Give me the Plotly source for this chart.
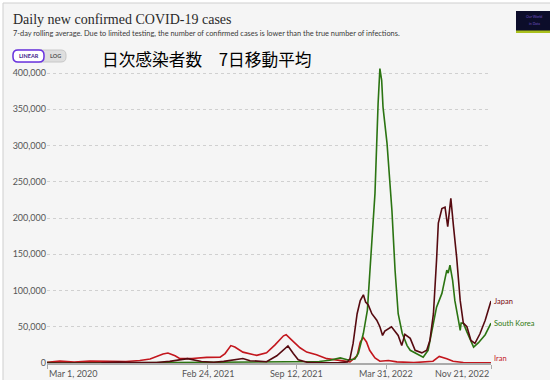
import plotly.graph_objects as go

# ---------------- data ----------------
japan_dates = ["2020-03-01","2020-04-12","2020-05-20","2020-07-01","2020-08-08","2020-09-20","2020-11-01",
    "2020-12-01","2021-01-10","2021-02-10","2021-03-10","2021-04-01","2021-04-22","2021-05-14","2021-05-30",
    "2021-06-25","2021-07-06","2021-07-29","2021-08-23","2021-09-04","2021-09-15","2021-10-05","2021-11-01",
    "2021-12-15","2022-01-03","2022-01-09","2022-01-16","2022-01-25","2022-02-01","2022-02-08","2022-02-13",
    "2022-02-19","2022-02-27","2022-03-10","2022-03-17","2022-03-23","2022-03-28","2022-04-12","2022-04-20",
    "2022-04-27","2022-05-05","2022-05-12","2022-05-24","2022-06-04","2022-06-19","2022-06-30","2022-07-07",
    "2022-07-15","2022-07-22","2022-07-26","2022-08-03","2022-08-10","2022-08-16","2022-08-23","2022-08-29",
    "2022-09-05","2022-09-13","2022-09-20","2022-09-28","2022-10-07","2022-10-16","2022-10-27","2022-11-08",
    "2022-11-21"]
japan_cases = [30,550,50,150,1400,500,700,
    2200,6000,2000,1100,2200,4500,6200,3200,
    1600,1800,10000,23500,13000,4500,1000,200,
    150,1500,6000,27000,68000,86000,94000,84000,
    80000,68000,59000,50000,38000,44000,50000,44000,
    38000,24000,39500,34000,17500,14000,17500,31000,
    68000,142000,193000,213000,215000,188000,227000,188000,
    146000,86000,55000,50000,31000,27000,40000,59000,
    85500]

korea_dates = ["2020-03-01","2020-03-08","2020-04-01","2020-08-28","2020-12-25","2021-02-01","2021-04-20",
    "2021-07-25","2021-09-25","2021-11-01","2021-11-25","2021-12-18","2022-01-05","2022-01-20","2022-01-28",
    "2022-02-08","2022-02-17","2022-02-27","2022-03-06","2022-03-13","2022-03-17","2022-03-21","2022-03-24",
    "2022-04-02","2022-04-13","2022-04-20","2022-04-27","2022-05-06","2022-05-17","2022-05-24","2022-06-08",
    "2022-06-22","2022-07-03","2022-07-15","2022-07-22","2022-08-03","2022-08-10","2022-08-14","2022-08-17",
    "2022-08-21","2022-08-27","2022-09-01","2022-09-09","2022-09-13","2022-09-15","2022-09-20","2022-09-28",
    "2022-10-13","2022-10-24","2022-11-08","2022-11-21"]
korea_cases = [500,600,100,350,1000,400,650,
    1500,2500,2000,3800,7000,4200,5500,14000,
    41000,73000,160000,234000,358000,406000,390000,353000,
    303000,210000,128000,68000,41000,24000,17500,12000,
    8000,17500,55000,77000,96000,119000,128000,124000,
    135000,114000,86000,59000,45000,55000,55000,43000,
    22000,28000,39000,55000]

iran_dates = ["2020-03-01","2020-03-30","2020-05-01","2020-06-05","2020-07-20","2020-08-25","2020-09-25",
    "2020-10-18","2020-11-16","2020-11-27","2020-12-13","2020-12-24","2021-01-20","2021-02-22","2021-03-24",
    "2021-04-04","2021-04-17","2021-04-26","2021-05-14","2021-06-14","2021-07-06","2021-07-25","2021-08-13",
    "2021-08-19","2021-08-31","2021-09-19","2021-10-04","2021-10-26","2021-11-18","2021-12-18","2022-01-09",
    "2022-01-25","2022-02-01","2022-02-08","2022-02-15","2022-02-22","2022-03-06","2022-03-17","2022-04-05",
    "2022-04-24","2022-06-01","2022-07-14","2022-07-28","2022-08-14","2022-08-28","2022-09-20","2022-11-21"]
iran_cases = [800,2800,1200,2700,2400,2100,3500,
    5500,12500,13800,10000,6000,6200,7800,8000,
    13000,24000,22000,15000,10500,14000,25000,37500,
    39000,32000,21000,15000,11500,6000,3000,1500,
    10000,29000,35000,29000,17500,7000,2500,3500,
    1500,500,2500,9000,6000,2500,700,300]

y_ticks = [0, 50000, 100000, 150000, 200000, 250000, 300000, 350000, 400000]
x_tick_dates = ["2020-03-01", "2021-02-24", "2021-09-12", "2022-03-31", "2022-11-21"]
x_tick_labels = ["Mar 1, 2020", "Feb 24, 2021", "Sep 12, 2021", "Mar 31, 2022", "Nov 21, 2022"]

series = [
    ("Iran", iran_dates, iran_cases, "#c3161d", "#c3161d"),
    ("South Korea", korea_dates, korea_cases, "#2b7412", "#2f7a10"),
    ("Japan", japan_dates, japan_cases, "#560a10", "#7a0c10"),
]

# ---------------- geometry helpers (pixel -> paper) ----------------
W, H = 550, 380
L, R, T, B = 47, 59, 64, 17
PW, PH = W - L - R, H - T - B
def px(x):
    return (x - L) / PW
def py(y):
    return (H - B - y) / PH

FONT = "Lato, 'Noto Sans', sans-serif"

fig = go.Figure()
for name, d, v, col, _ in series:
    fig.add_trace(go.Scatter(x=d, y=v, mode="lines", name=name,
                             line=dict(color=col, width=1.6),
                             hoverinfo="skip"))

fig.update_layout(
    width=W, height=H,
    margin=dict(l=L, r=R, t=T, b=B, pad=0),
    paper_bgcolor="white",
    plot_bgcolor="rgba(0,0,0,0)",
    showlegend=False,
    font=dict(family=FONT, color="#555"),
    xaxis=dict(type="date", range=["2020-03-01", "2022-11-21"],
               tickvals=x_tick_dates, showticklabels=False,
               ticks="outside", ticklen=4, tickcolor="#aaa", tickwidth=1,
               showgrid=False, zeroline=False,
               showline=True, linecolor="#aaa", linewidth=1.5),
    yaxis=dict(range=[0, 400000 * PH / 290], tickvals=y_ticks,
               tickformat=",", tickfont=dict(family=FONT, size=9, color="#555"),
               showgrid=True, gridcolor="#d0d0d0", griddash="dot", gridwidth=1,
               zeroline=False, showline=False, ticks=""),
)

shapes = []
# frame / background
shapes.append(dict(type="rect", xref="paper", yref="paper", x0=px(3), x1=px(560), y0=py(3), y1=py(390),
                   fillcolor="#f5f5f5", line=dict(color="#cfcfcf", width=1), layer="below"))
# logo box
shapes.append(dict(type="rect", xref="paper", yref="paper", x0=px(516), x1=px(552), y0=py(11), y1=py(31),
                   fillcolor="#0c0d2a", line=dict(width=0), layer="above"))
shapes.append(dict(type="rect", xref="paper", yref="paper", x0=px(516), x1=px(552), y0=py(30.5), y1=py(33),
                   fillcolor="#a9c01c", line=dict(width=0), layer="above"))

def pill(x0, x1, y0, y1, r, fill, line):
    path = (f"M {px(x0 + r)} {py(y0)} L {px(x1 - r)} {py(y0)} "
            f"Q {px(x1)} {py(y0)} {px(x1)} {py(y0 + r)} L {px(x1)} {py(y1 - r)} "
            f"Q {px(x1)} {py(y1)} {px(x1 - r)} {py(y1)} L {px(x0 + r)} {py(y1)} "
            f"Q {px(x0)} {py(y1)} {px(x0)} {py(y1 - r)} L {px(x0)} {py(y0 + r)} "
            f"Q {px(x0)} {py(y0)} {px(x0 + r)} {py(y0)} Z")
    return dict(type="path", xref="paper", yref="paper", path=path,
                fillcolor=fill, line=line, layer="above")

shapes.append(pill(13, 66, 50, 62, 5, "#dedede", dict(color="#c8c8c8", width=1)))
shapes.append(pill(13, 44, 50, 62, 5, "#ffffff", dict(color="#6a33e0", width=1.5)))

annotations = []
def txt(x, y, s, size, color, family=FONT, xanchor="left", yanchor="middle", **kw):
    annotations.append(dict(x=px(x), y=py(y), xref="paper", yref="paper", text=s, showarrow=False,
                            xanchor=xanchor, yanchor=yanchor,
                            font=dict(size=size, color=color, family=family), **kw))

txt(11, 19, "Daily new confirmed COVID-19 cases", 14, "#2a2a2a",
    family="'Liberation Serif', 'DejaVu Serif', serif")
txt(11, 33, "7-day rolling average. Due to limited testing, the number of confirmed cases is lower than the true number of infections.",
    7.4, "#3a3a3a")
txt(28.5, 56, "<b>LINEAR</b>", 5.5, "#3a1d8a", xanchor="center")
txt(55, 56, "<b>LOG</b>", 5.5, "#555", xanchor="center")
txt(100, 59, "日次感染者数　7日移動平均", 16.7, "#000000", family="'Noto Sans CJK JP'")
txt(534, 17, "Our World", 3.5, "#7050c0", xanchor="center")
txt(534, 24, "in Data", 3.5, "#7050c0", xanchor="center")

# x tick labels
for i, (d, lab) in enumerate(zip(x_tick_dates, x_tick_labels)):
    anchor = "left" if i == 0 else ("right" if i == len(x_tick_dates) - 1 else "center")
    annotations.append(dict(x=d, y=py(366), xref="x", yref="paper", text=lab, showarrow=False,
                            xanchor=anchor, yanchor="top",
                            font=dict(size=9, color="#555", family=FONT)))

# end labels
for name, d, v, _, lcol in series:
    annotations.append(dict(x=d[-1], y=v[-1], xref="x", yref="y", text=name, showarrow=False,
                            xanchor="left", yanchor="middle", xshift=1,
                            yshift=4 if name == "Iran" else 0,
                            font=dict(size=7.5, color=lcol, family=FONT)))

fig.update_layout(shapes=shapes, annotations=annotations)
fig.write_html("out.html", config={"displayModeBar": False},
               post_script="document.body.style.margin='0';document.body.style.overflow='hidden';")
